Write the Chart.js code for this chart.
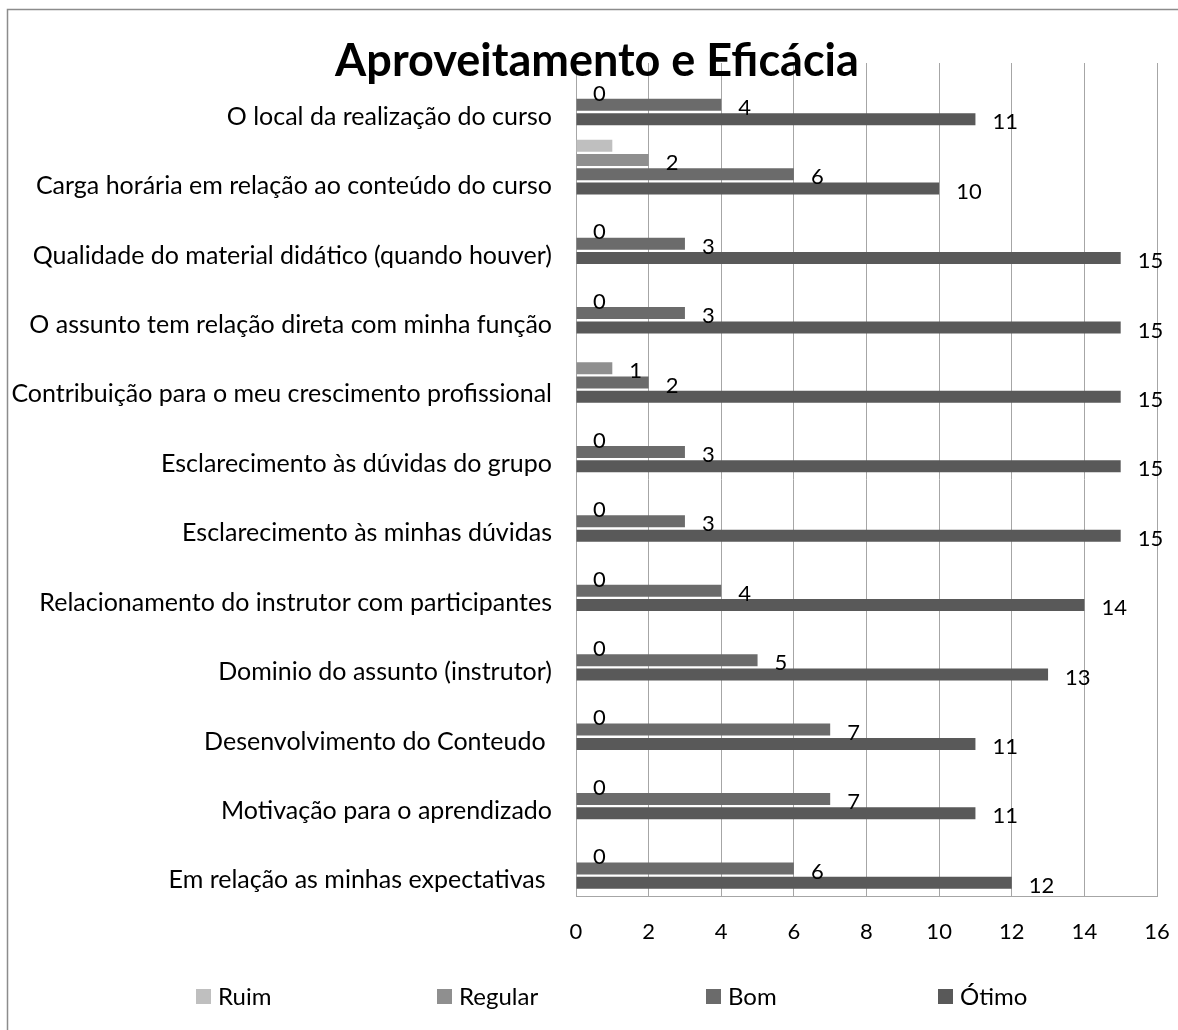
<!DOCTYPE html>
<html>
<head>
<meta charset="utf-8">
<script src="https://cdn.jsdelivr.net/npm/chart.js@4.4.1/dist/chart.umd.min.js"></script>
<style>
html,body{margin:0;padding:0;background:#fff;}
</style>
</head>
<body>
<canvas id="chart" width="1178" height="1030"></canvas>
<script>
// categories top to bottom
const categories=[
  'O local da realização do curso',
  'Carga horária em relação ao conteúdo do curso',
  'Qualidade do material didático (quando houver)',
  'O assunto tem relação direta com minha função',
  'Contribuição para o meu crescimento profissional',
  'Esclarecimento às dúvidas do grupo',
  'Esclarecimento às minhas dúvidas',
  'Relacionamento do instrutor com participantes',
  'Dominio do assunto (instrutor)',
  'Desenvolvimento do Conteudo ',
  'Motivação para o aprendizado',
  'Em relação as minhas expectativas '
];
const ruim=[null,1,null,null,null,null,null,null,null,null,null,null];
const regular=[0,2,0,0,1,0,0,0,0,0,0,0];
const bom=[4,6,3,3,2,3,3,4,5,7,7,6];
const otimo=[11,10,15,15,15,15,15,14,13,11,11,12];
const seriesNames=['Ruim','Regular','Bom','Ótimo'];
const xTicks=[0,2,4,6,8,10,12,14,16];
const chartTitle='Aproveitamento e Eficácia';

const colors=['#bfbfbf','#8f8f8f','#6b6b6b','#595959'];
const FONT='Lato';

const barLabels={
  id:'barLabels',
  afterDatasetsDraw(chart){
    const ctx=chart.ctx;
    ctx.save();
    ctx.font='22px '+FONT;
    ctx.fillStyle='#000';
    ctx.textAlign='left';
    ctx.textBaseline='middle';
    chart.data.datasets.forEach(function(ds,i){
      if(i===0) return; // no labels on Ruim
      chart.getDatasetMeta(i).data.forEach(function(bar,j){
        const v=ds.data[j];
        if(v==null) return;
        ctx.fillText(String(v),bar.x+17,bar.y+3);
      });
    });
    ctx.restore();
  }
};

const frame={
  id:'frame',
  beforeDraw(chart){
    const ctx=chart.ctx;
    ctx.save();
    ctx.strokeStyle='#8c8c8c';
    ctx.lineWidth=1.5;
    ctx.beginPath();
    ctx.moveTo(7.5,1030);ctx.lineTo(7.5,9.5);ctx.lineTo(1178,9.5);
    ctx.stroke();
    ctx.restore();
  },
  afterDraw(chart){
    const ctx=chart.ctx;
    ctx.save();
    ctx.fillStyle='#000';
    ctx.font='bold 45px '+FONT;
    ctx.textAlign='center';
    ctx.textBaseline='alphabetic';
    ctx.fillText(chartTitle,597,76);
    // legend
    const lx=[196,437,706,938];
    ctx.font='24px '+FONT;
    ctx.textBaseline='middle';
    ctx.textAlign='left';
    seriesNames.forEach(function(n,i){
      ctx.fillStyle=colors[i];
      ctx.fillRect(lx[i],989,15,15);
      ctx.fillStyle='#000';
      ctx.fillText(n,lx[i]+22,997);
    });
    ctx.restore();
  }
};

new Chart(document.getElementById('chart'),{
  type:'bar',
  data:{
    labels:categories,
    datasets:seriesNames.map(function(n,i){
      return {label:n,data:[ruim,regular,bom,otimo][i],backgroundColor:colors[i],borderWidth:0,
        categoryPercentage:0.824,barPercentage:0.84};
    })
  },
  options:{
    indexAxis:'y',
    responsive:false,
    animation:false,
    layout:{padding:{top:63,right:21,bottom:0,left:0}},
    plugins:{legend:{display:false},tooltip:{enabled:false}},
    scales:{
      x:{
        min:xTicks[0],max:xTicks[xTicks.length-1],
        ticks:{stepSize:xTicks[1]-xTicks[0],color:'#000',font:{family:FONT,size:22},padding:23},
        grid:{color:'#a6a6a6',lineWidth:1,drawTicks:false},
        border:{display:true,color:'#a6a6a6'},
        afterFit:function(s){s.height=134;s.paddingRight=0;s.paddingLeft=0;}
      },
      y:{
        ticks:{color:'#000',font:{family:FONT,size:25},padding:24,autoSkip:false,labelOffset:19},
        grid:{display:false,drawTicks:false},
        border:{display:true,color:'#a6a6a6'},
        afterFit:function(s){s.width=576;}
      }
    }
  },
  plugins:[frame,barLabels]
});
</script>
</body>
</html>
